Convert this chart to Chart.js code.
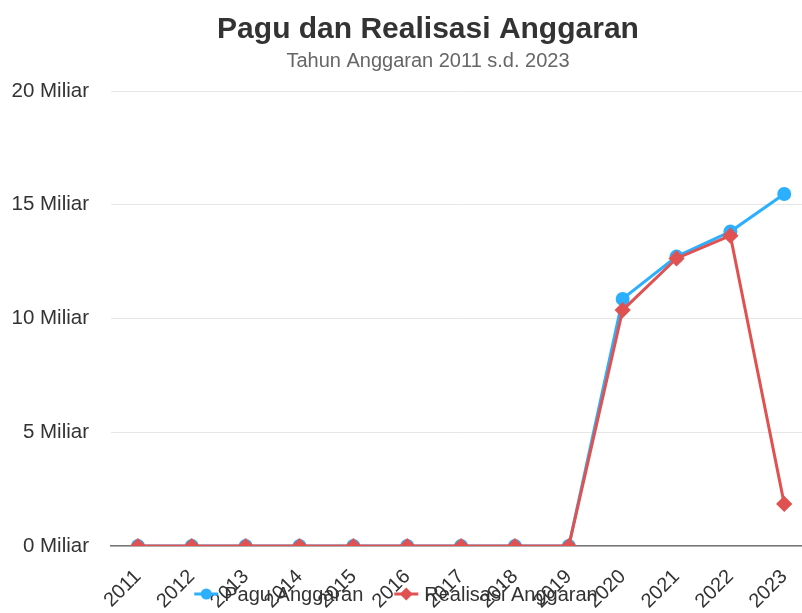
<!DOCTYPE html>
<html lang="id">
<head>
<meta charset="UTF-8">
<title>Pagu dan Realisasi Anggaran</title>
<script src="https://cdn.jsdelivr.net/npm/chart.js"></script>
<style>
  html, body { margin: 0; padding: 0; background: #fff; overflow: hidden; }
  #wrap { width: 802px; height: 613px; }
</style>
</head>
<body>
<div id="wrap"><canvas id="anggaranChart"></canvas></div>
<script>
// data (Miliar rupiah)
const years = [2011, 2012, 2013, 2014, 2015, 2016, 2017, 2018, 2019, 2020, 2021, 2022, 2023]
const pagu = [0, 0, 0, 0, 0, 0, 0, 0, 0, 10.86, 12.72, 13.82, 15.47]
const realisasi = [0, 0, 0, 0, 0, 0, 0, 0, 0, 10.37, 12.64, 13.64, 1.85]
const yTicks = [0, 5, 10, 15, 20]

const FONT = 'Arial, "Liberation Sans", Helvetica, sans-serif'
const BLUE = '#2caffe'
const RED = '#e05252'

// legend drawn by hand so it can sit over the rotated year labels, like the original
const overlapLegend = {
  id: 'overlapLegend',
  afterDraw (chart) {
    const g = chart.ctx
    const cy = 594
    g.save()
    g.font = '20px ' + FONT
    g.textBaseline = 'middle'
    const items = chart.data.datasets.map((ds) => ({ ds, w: g.measureText(ds.label).width }))
    const symW = 24
    const gap = 6
    const itemGap = 31
    const total = items.reduce((s, it) => s + symW + gap + it.w, 0) + itemGap * (items.length - 1)
    let x = 396 - total / 2
    items.forEach((it) => {
      const c = it.ds.borderColor
      g.strokeStyle = c
      g.fillStyle = c
      g.lineWidth = 3
      g.beginPath()
      g.moveTo(x, cy)
      g.lineTo(x + symW, cy)
      g.stroke()
      g.beginPath()
      const mx = x + symW / 2
      if (it.ds.pointStyle === 'circle') {
        g.arc(mx, cy, 5.5, 0, Math.PI * 2)
      } else {
        g.moveTo(mx, cy - 6.5)
        g.lineTo(mx + 6.5, cy)
        g.lineTo(mx, cy + 6.5)
        g.lineTo(mx - 6.5, cy)
        g.closePath()
      }
      g.fill()
      g.fillStyle = '#333333'
      g.fillText(it.ds.label, x + symW + gap, cy + 1)
      x += symW + gap + it.w + itemGap
    })
    g.restore()
  },
}

const ctx = document.getElementById('anggaranChart').getContext('2d')
new Chart(ctx, {
  type: 'line',
  data: {
    datasets: [
      {
        label: 'Pagu Anggaran',
        data: years.map((y, i) => ({ x: y, y: pagu[i] })),
        borderColor: BLUE,
        backgroundColor: BLUE,
        borderWidth: 3,
        pointStyle: 'circle',
        pointRadius: 5.5,
        pointHoverRadius: 6,
        order: 1,
      },
      {
        label: 'Realisasi Anggaran',
        data: years.map((y, i) => ({ x: y, y: realisasi[i] })),
        borderColor: RED,
        backgroundColor: RED,
        borderWidth: 3,
        pointStyle: 'rectRot',
        pointRadius: 6,
        pointHoverRadius: 7,
        order: 0,
      },
    ],
  },
  plugins: [overlapLegend],
  options: {
    responsive: true,
    maintainAspectRatio: false,
    animation: false,
    // the original chart is wider than the visible window, so its title sits right of centre
    layout: { autoPadding: false, padding: { left: 0, right: -54, top: 0, bottom: 0 } },
    plugins: {
      title: {
        display: true,
        text: 'Pagu dan Realisasi Anggaran',
        color: '#333333',
        font: { family: FONT, size: 30, weight: 'bold' },
        padding: { top: 12, bottom: 1.5 },
      },
      subtitle: {
        display: true,
        text: 'Tahun Anggaran 2011 s.d. 2023',
        color: '#666666',
        font: { family: FONT, size: 20 },
        padding: { top: 0, bottom: 17.5 },
      },
      legend: { display: false },
      tooltip: { enabled: false },
    },
    scales: {
      x: {
        type: 'linear',
        min: 2010.5,
        max: 2023.33,
        afterBuildTicks: (scale) => { scale.ticks = years.map((v) => ({ value: v })) },
        afterFit: (scale) => {
          scale.height = 67
          scale.paddingLeft = 0
          scale.paddingRight = 0
        },
        grid: { display: false },
        border: { display: true, color: '#777777', width: 1.5 },
        ticks: {
          autoSkip: false,
          minRotation: 45,
          maxRotation: 45,
          padding: 11,
          color: '#333333',
          font: { family: FONT, size: 20 },
          callback: (v) => String(v),
        },
      },
      y: {
        min: 0,
        max: 20,
        afterBuildTicks: (scale) => { scale.ticks = yTicks.map((v) => ({ value: v })) },
        afterFit: (scale) => { scale.width = 111 },
        border: { display: false },
        grid: { color: '#e6e6e6', lineWidth: 1, drawTicks: false },
        ticks: {
          padding: 22,
          color: '#333333',
          font: { family: FONT, size: 20.5 },
          callback: (v) => v + ' Miliar',
        },
      },
    },
  },
})
</script>
</body>
</html>
